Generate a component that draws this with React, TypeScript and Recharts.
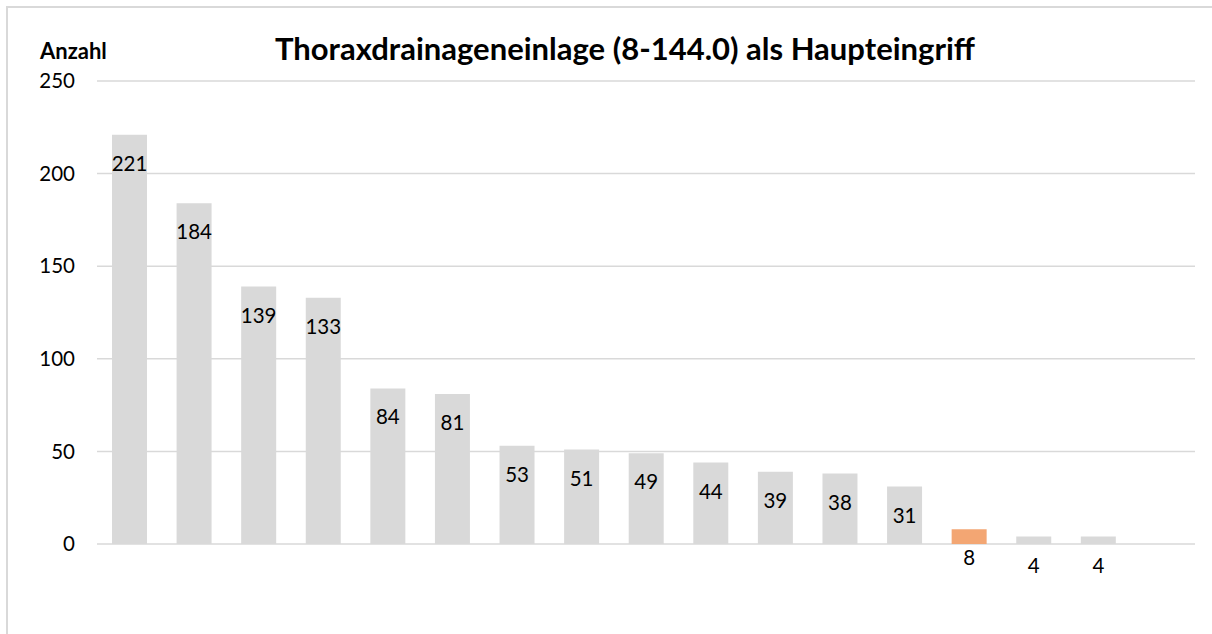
import { BarChart, Bar, XAxis, YAxis, CartesianGrid, Cell, LabelList } from "recharts";

// categories are not labelled in the chart; the last slot is empty
const categories = ["A", "B", "C", "D", "E", "F", "G", "H", "I", "J", "K", "L", "M", "N", "O", "P", "Q"];
const counts: (number | null)[] = [221, 184, 139, 133, 84, 81, 53, 51, 49, 44, 39, 38, 31, 8, 4, 4, null];
const highlightIndex = 13;
const yTicks = [0, 50, 100, 150, 200, 250];

const GRAY = "#d9d9d9";
const ORANGE = "#f3a673";
const FONT = "Lato, 'Open Sans', sans-serif";

const data = categories.map((name, i) => ({ name, value: counts[i] }));

// value label sits just inside the top of each bar
const InsideLabel = (props: any) => {
  const { x, y, width, value } = props;
  if (value == null) return null;
  return (
    <text
      x={x + width / 2}
      y={y + 28}
      textAnchor="middle"
      dominantBaseline="central"
      fontSize={20.5}
      fontFamily={FONT}
      fill="#000"
    >
      {value}
    </text>
  );
};

export default function App() {
  return (
    <div
      style={{
        position: "absolute",
        left: 6,
        top: 6,
        width: 1206,
        height: 628,
        borderTop: `2px solid ${GRAY}`,
        borderLeft: `2px solid ${GRAY}`,
        boxSizing: "border-box",
        overflow: "hidden",
        fontFamily: FONT,
        background: "#fff",
      }}
    >
      <div
        style={{
          position: "absolute",
          left: 32,
          top: 29,
          fontSize: 22,
          fontWeight: 700,
          color: "#000",
        }}
      >
        Anzahl
      </div>
      <div
        style={{
          position: "absolute",
          left: 0,
          width: 1234,
          top: 21,
          textAlign: "center",
          fontSize: 31,
          fontWeight: 700,
          color: "#000",
        }}
      >
        Thoraxdrainageneinlage (8-144.0) als Haupteingriff
      </div>
      <div style={{ position: "absolute", left: 0, top: 0 }}>
        <BarChart
          width={1204}
          height={626}
          data={data}
          margin={{ top: 73, right: 17, bottom: 90, left: 29 }}
          barSize={35}
        >
          <CartesianGrid vertical={false} stroke={GRAY} strokeWidth={1.5} />
          <XAxis dataKey="name" hide />
          <YAxis
            width={60}
            domain={[0, 250]}
            ticks={yTicks}
            tickLine={false}
            axisLine={false}
            tickMargin={16}
            tick={{ fill: "#000", fontSize: 20.5, fontFamily: FONT }}
          />
          <Bar dataKey="value" isAnimationActive={false}>
            {data.map((d, i) => (
              <Cell key={d.name} fill={i === highlightIndex ? ORANGE : GRAY} />
            ))}
            <LabelList dataKey="value" content={InsideLabel} />
          </Bar>
        </BarChart>
      </div>
    </div>
  );
}
